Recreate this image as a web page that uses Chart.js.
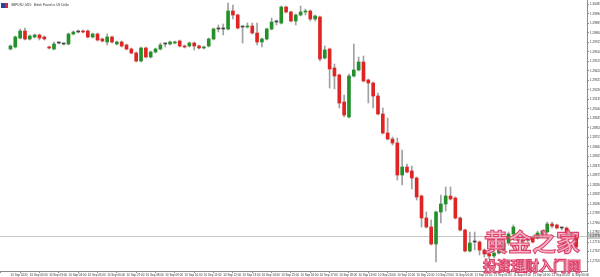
<!DOCTYPE html>
<html>
<head>
<meta charset="utf-8">
<title>GBPUSD, M15</title>
<script src="https://cdn.jsdelivr.net/npm/chart.js@4.4.1/dist/chart.umd.min.js"></script>
<style>
  html, body { margin: 0; padding: 0; background: #fff; }
  #wrap { width: 600px; height: 277px; }
</style>
</head>
<body>
<div id="wrap"><canvas id="gbpChart" width="600" height="277"></canvas></div>
<script>
// GBPUSD M15 candles, one entry per bar
const opens = [
  1.2964, 1.2966, 1.2975, 1.2982, 1.2974, 1.2976, 1.2978, 1.2976, 1.2966, 1.2964,
  1.2970, 1.2969, 1.2969, 1.2979, 1.2981, 1.2982, 1.2982, 1.2976, 1.2979, 1.2974,
  1.2971, 1.2976, 1.2969, 1.2971, 1.2968, 1.2964, 1.2960, 1.2952, 1.2965, 1.2956,
  1.2961, 1.2964, 1.2969, 1.2969, 1.2970, 1.2972, 1.2967, 1.2967, 1.2970, 1.2967,
  1.2965, 1.2967, 1.2974, 1.2984, 1.2984, 1.2984, 1.3002, 1.2998, 1.2986, 1.2986,
  1.2987, 1.2980, 1.2971, 1.2974, 1.2984, 1.2991, 1.2990, 1.3006, 1.3001, 1.2992,
  1.2998, 1.3001, 1.3002, 1.2994, 1.2996, 1.2955, 1.2964, 1.2945, 1.2938, 1.2911,
  1.2896, 1.2937, 1.2943, 1.2951, 1.2933, 1.2930, 1.2917, 1.2899, 1.2880, 1.2874,
  1.2870, 1.2838, 1.2846, 1.2842, 1.2835, 1.2817, 1.2795, 1.2786, 1.2769, 1.2801,
  1.2809, 1.2817, 1.2815, 1.2795, 1.2783, 1.2762, 1.2771, 1.2771, 1.2763, 1.2759,
  1.2757, 1.2760, 1.2763, 1.2770, 1.2779, 1.2773, 1.2773, 1.2773, 1.2775, 1.2775,
  1.2779, 1.2781, 1.2789, 1.2788, 1.2785, 1.2785, 1.2779, 1.2778
];
const highs = [
  1.2968, 1.2977, 1.2984, 1.2985, 1.2978, 1.2979, 1.2979, 1.2977, 1.2967, 1.2971,
  1.2971, 1.2970, 1.2980, 1.2982, 1.2983, 1.2983, 1.2983, 1.2980, 1.2980, 1.2975,
  1.2979, 1.2977, 1.2972, 1.2972, 1.2969, 1.2965, 1.2961, 1.2966, 1.2966, 1.2962,
  1.2965, 1.2970, 1.2970, 1.2972, 1.2972, 1.2973, 1.2968, 1.2971, 1.2971, 1.2968,
  1.2967, 1.2975, 1.2985, 1.2988, 1.2989, 1.3010, 1.3008, 1.2999, 1.2987, 1.2990,
  1.2990, 1.2990, 1.2975, 1.2985, 1.2995, 1.2993, 1.3007, 1.3007, 1.3002, 1.2999,
  1.3007, 1.3004, 1.3003, 1.2998, 1.2997, 1.2967, 1.2965, 1.2949, 1.2939, 1.2918,
  1.2939, 1.2969, 1.2956, 1.2957, 1.2934, 1.2931, 1.2920, 1.2905, 1.2895, 1.2876,
  1.2875, 1.2863, 1.2849, 1.2847, 1.2836, 1.2818, 1.2801, 1.2793, 1.2802, 1.2818,
  1.2826, 1.2826, 1.2816, 1.2796, 1.2784, 1.2781, 1.2781, 1.2772, 1.2764, 1.2760,
  1.2761, 1.2764, 1.2772, 1.2781, 1.2788, 1.2776, 1.2775, 1.2775, 1.2777, 1.2782,
  1.2783, 1.2791, 1.2791, 1.2789, 1.2786, 1.2786, 1.2780, 1.2779
];
const lows = [
  1.2963, 1.2965, 1.2974, 1.2973, 1.2973, 1.2975, 1.2973, 1.2973, 1.2964, 1.2963,
  1.2969, 1.2968, 1.2968, 1.2978, 1.2980, 1.2980, 1.2975, 1.2975, 1.2972, 1.2971,
  1.2968, 1.2970, 1.2968, 1.2966, 1.2963, 1.2959, 1.2951, 1.2951, 1.2955, 1.2955,
  1.2960, 1.2963, 1.2966, 1.2968, 1.2969, 1.2966, 1.2965, 1.2966, 1.2963, 1.2964,
  1.2964, 1.2966, 1.2973, 1.2981, 1.2978, 1.2983, 1.2994, 1.2984, 1.2970, 1.2985,
  1.2979, 1.2968, 1.2966, 1.2973, 1.2983, 1.2988, 1.2989, 1.3000, 1.2991, 1.2988,
  1.2997, 1.2998, 1.2992, 1.2992, 1.2952, 1.2954, 1.2925, 1.2924, 1.2905, 1.2896,
  1.2895, 1.2936, 1.2942, 1.2931, 1.2910, 1.2905, 1.2898, 1.2879, 1.2873, 1.2868,
  1.2833, 1.2828, 1.2840, 1.2824, 1.2813, 1.2786, 1.2785, 1.2768, 1.2751, 1.2790,
  1.2802, 1.2813, 1.2794, 1.2782, 1.2761, 1.2761, 1.2763, 1.2758, 1.2756, 1.2754,
  1.2755, 1.2759, 1.2762, 1.2768, 1.2777, 1.2771, 1.2770, 1.2771, 1.2770, 1.2774,
  1.2777, 1.2780, 1.2785, 1.2784, 1.2783, 1.2778, 1.2777, 1.2765
];
const closes = [
  1.2967, 1.2976, 1.2982, 1.2974, 1.2977, 1.2978, 1.2975, 1.2974, 1.2965, 1.2969,
  1.2970, 1.2969, 1.2979, 1.2981, 1.2981, 1.2981, 1.2976, 1.2979, 1.2973, 1.2972,
  1.2976, 1.2971, 1.2971, 1.2967, 1.2964, 1.2960, 1.2952, 1.2965, 1.2956, 1.2961,
  1.2964, 1.2968, 1.2969, 1.2971, 1.2971, 1.2967, 1.2966, 1.2970, 1.2967, 1.2965,
  1.2966, 1.2974, 1.2984, 1.2984, 1.2984, 1.3002, 1.2998, 1.2985, 1.2986, 1.2987,
  1.2980, 1.2971, 1.2974, 1.2984, 1.2991, 1.2991, 1.3006, 1.3001, 1.2992, 1.2998,
  1.3001, 1.3002, 1.2994, 1.2997, 1.2954, 1.2963, 1.2944, 1.2937, 1.2910, 1.2898,
  1.2937, 1.2943, 1.2951, 1.2932, 1.2930, 1.2917, 1.2899, 1.2880, 1.2874, 1.2870,
  1.2838, 1.2846, 1.2841, 1.2835, 1.2816, 1.2795, 1.2786, 1.2769, 1.2801, 1.2809,
  1.2817, 1.2814, 1.2795, 1.2783, 1.2762, 1.2770, 1.2771, 1.2763, 1.2759, 1.2757,
  1.2760, 1.2763, 1.2770, 1.2779, 1.2786, 1.2773, 1.2772, 1.2773, 1.2771, 1.2780,
  1.2782, 1.2789, 1.2787, 1.2785, 1.2785, 1.2779, 1.2779, 1.2766
];

// one time label every 4 bars (hourly)
const xTickLabels = [
  "10 Sep 2020", "10 Sep 02:00", "10 Sep 03:00", "10 Sep 04:00", "10 Sep 05:00",
  "10 Sep 06:00", "10 Sep 07:00", "10 Sep 08:00", "10 Sep 09:00", "10 Sep 10:00",
  "10 Sep 11:00", "10 Sep 12:00", "10 Sep 13:00", "10 Sep 14:00", "10 Sep 15:00",
  "10 Sep 16:00", "10 Sep 17:00", "10 Sep 18:00", "10 Sep 19:00", "10 Sep 20:00",
  "10 Sep 21:00", "10 Sep 22:00", "10 Sep 23:00", "11 Sep 00:00", "11 Sep 01:00",
  "11 Sep 02:00", "11 Sep 03:00", "11 Sep 04:00", "11 Sep 05:00", "11 Sep 06:00"
];
const yTickValues = [
  1.30085, 1.29990, 1.29895, 1.29800, 1.29705, 1.29610, 1.29515, 1.29420, 1.29325, 1.29230,
  1.29135, 1.29040, 1.28945, 1.28850, 1.28755, 1.28660, 1.28565, 1.28470, 1.28375, 1.28280,
  1.28185, 1.28090, 1.27995, 1.27900, 1.27805, 1.27710, 1.27615, 1.27520
];
const bidPrice = 1.2777;
const titleText = "GBPUSD, M15:  British Pound vs US Dollar";
const watermarkTop = "黄金之家";
const watermarkBottom = "投资理财入门网";

const upColor = "#24902a";
const downColor = "#e02323";
const dojiColor = "#444444";
const wickColor = "#a0a0a0";

const barsPerLabel = 4;
const xTickIndex = xTickLabels.map((_, i) => i * barsPerLabel);

const bodyData = opens.map((o, i) => ({ x: i, y: [o, closes[i]] }));
const wickData = highs.map((h, i) => ({ x: i, y: [lows[i], h] }));
const bodyColors = opens.map((o, i) =>
  closes[i] > o ? upColor : (closes[i] < o ? downColor : dojiColor));

// bid line, title and the pink watermark
const overlay = {
  id: "overlay",
  beforeDatasetsDraw(chart) {
    const { ctx, chartArea, scales } = chart;
    const y = Math.round(scales.y.getPixelForValue(bidPrice)) + 0.5;
    ctx.save();
    ctx.strokeStyle = "#c6c6c6";
    ctx.lineWidth = 1;
    ctx.beginPath();
    ctx.moveTo(chartArea.left, y);
    ctx.lineTo(chartArea.right, y);
    ctx.stroke();
    ctx.restore();
  },
  afterDraw(chart) {
    const { ctx, chartArea, scales } = chart;
    ctx.save();

    // bid tag on the price scale
    const by = Math.round(scales.y.getPixelForValue(bidPrice));
    ctx.fillStyle = "#c8c8c8";
    ctx.fillRect(chartArea.right + 1, by - 3, 13, 6);
    ctx.fillStyle = "#222";
    ctx.font = '3px "Liberation Sans"';
    ctx.textBaseline = "middle";
    ctx.fillText(bidPrice.toFixed(5), chartArea.right + 3, by + 0.5);

    // symbol flag + title
    ctx.fillStyle = "#2a4494";
    ctx.fillRect(1, 3, 4, 5);
    ctx.fillStyle = "#d3283c";
    ctx.fillRect(5, 3, 3, 5);
    ctx.fillStyle = "#333";
    ctx.font = '3px "Liberation Sans"';
    ctx.textBaseline = "middle";
    ctx.fillText(titleText, 11, 5.5);

    // watermark
    ctx.textBaseline = "top";
    ctx.lineWidth = 1.1;
    ctx.strokeStyle = "rgba(218, 58, 100, 0.95)";
    ctx.fillStyle = "rgba(242, 150, 178, 0.72)";
    ctx.font = 'bold 24px "Noto Sans CJK SC"';
    ctx.fillText(watermarkTop, 484, 230);
    ctx.strokeText(watermarkTop, 484, 230);
    ctx.font = 'bold 14px "Noto Sans CJK SC"';
    ctx.fillText(watermarkBottom, 483, 259);
    ctx.strokeText(watermarkBottom, 483, 259);

    ctx.restore();
  }
};

const ctx = document.getElementById("gbpChart").getContext("2d");
new Chart(ctx, {
  type: "bar",
  data: {
    datasets: [
      {
        label: "wick",
        data: wickData,
        backgroundColor: wickColor,
        barThickness: 1,
        grouped: false,
        order: 2
      },
      {
        label: "body",
        data: bodyData,
        backgroundColor: bodyColors,
        barThickness: 3,
        minBarLength: 1,
        grouped: false,
        order: 1
      }
    ]
  },
  options: {
    responsive: false,
    animation: false,
    devicePixelRatio: 1,
    layout: { padding: 0 },
    plugins: { legend: { display: false }, tooltip: { enabled: false } },
    scales: {
      x: {
        type: "linear",
        min: -0.14,
        max: 117.2,
        grid: { display: true, drawOnChartArea: false, tickLength: 2, color: "#8a8a8a" },
        border: { display: true, color: "#8a8a8a" },
        afterBuildTicks: (scale) => {
          scale.ticks = xTickIndex.map(v => ({ value: v }));
        },
        afterFit: (scale) => {
          scale.height = 6;
          scale.paddingLeft = 0;
          scale.paddingRight = 0;
        },
        ticks: {
          autoSkip: false,
          maxRotation: 0,
          minRotation: 0,
          align: "start",
          padding: 0,
          color: "#333",
          font: { size: 3, family: "Liberation Sans" },
          callback: (value, index) => xTickLabels[index]
        }
      },
      y: {
        position: "right",
        min: 1.2742,
        max: 1.3013,
        grid: { display: true, drawOnChartArea: false, tickLength: 2, color: "#8a8a8a" },
        border: { display: true, color: "#8a8a8a" },
        afterBuildTicks: (scale) => {
          scale.ticks = yTickValues.map(v => ({ value: v }));
        },
        afterFit: (scale) => {
          scale.width = 13;
          scale.paddingTop = 0;
          scale.paddingBottom = 0;
        },
        ticks: {
          autoSkip: false,
          padding: 1,
          color: "#333",
          font: { size: 3, family: "Liberation Sans" },
          callback: (value) => Number(value).toFixed(5)
        }
      }
    }
  },
  plugins: [overlay]
});
</script>
</body>
</html>
